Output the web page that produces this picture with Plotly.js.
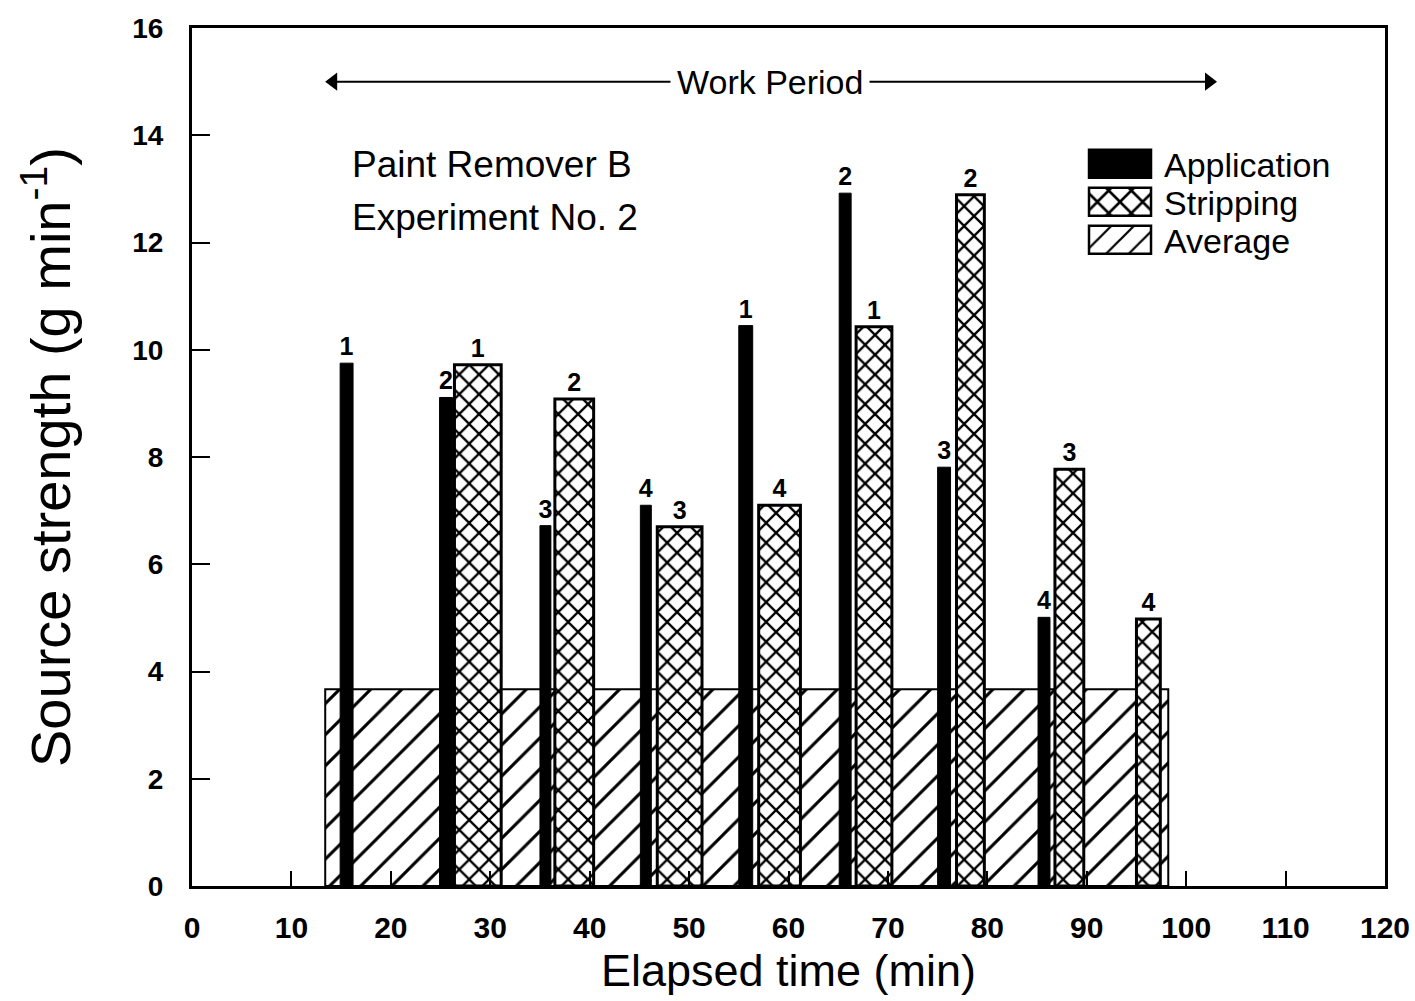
<!DOCTYPE html>
<html>
<head>
<meta charset="utf-8">
<script src="https://cdn.plot.ly/plotly-3.0.1.min.js"></script>
<style>
  html, body { margin: 0; padding: 0; background: #fff; }
  #chart { width: 1415px; height: 1001px; }
</style>
</head>
<body>
<div id="chart"></div>
<script>
// ---- data ----
const applicationStart = [14.9, 24.9, 35.0, 45.1, 55.0, 65.1, 75.0, 85.1];
const applicationEnd   = [16.2, 26.2, 36.1, 46.2, 56.4, 66.3, 76.3, 86.3];
const applicationValue = [9.75, 9.11, 6.72, 7.10, 10.45, 12.92, 7.81, 5.01];
const applicationLabel = ["1", "2", "3", "4", "1", "2", "3", "4"];

const strippingStart = [26.4, 36.5, 46.8, 57.0, 66.8, 76.9, 86.8, 95.0];
const strippingEnd   = [31.1, 40.4, 51.3, 61.2, 70.4, 79.7, 89.7, 97.4];
const strippingValue = [9.72, 9.08, 6.70, 7.10, 10.43, 12.89, 7.77, 4.98];
const strippingLabel = ["1", "2", "3", "4", "1", "2", "3", "4"];

const averageStart = [13.4];
const averageEnd   = [98.2];
const averageValue = [3.67];

const workPeriodX = [14.2, 102.3];
const workPeriodY = [15, 15];
const xTicks = [0, 10, 20, 30, 40, 50, 60, 70, 80, 90, 100, 110, 120];
const yTicks = [0, 2, 4, 6, 8, 10, 12, 14, 16];

// ---- helpers ----
const mid = (s, e) => s.map((v, i) => (v + e[i]) / 2);
const span = (s, e) => s.map((v, i) => e[i] - v);

const FONT = "Liberation Sans, Arial, Helvetica, sans-serif";

const traces = [
  {
    type: "bar", name: "Average", legendrank: 3,
    x: mid(averageStart, averageEnd), width: span(averageStart, averageEnd),
    y: averageValue,
    marker: { color: "#ffffff", line: { color: "#000", width: 2 },
      pattern: { shape: "/", fgcolor: "#000", bgcolor: "#fff", size: 22, solidity: 0.14 } },
    hoverinfo: "skip"
  },
  {
    type: "bar", name: "Application", legendrank: 1,
    x: mid(applicationStart, applicationEnd), width: span(applicationStart, applicationEnd),
    y: applicationValue,
    text: applicationLabel, textposition: "outside", constraintext: "none", cliponaxis: false,
    textfont: { family: FONT, size: 25, color: "#000", weight: "bold" },
    marker: { color: "#000", line: { color: "#000", width: 1 } },
    hoverinfo: "skip"
  },
  {
    type: "bar", name: "Stripping", legendrank: 2,
    x: mid(strippingStart, strippingEnd), width: span(strippingStart, strippingEnd),
    y: strippingValue,
    text: strippingLabel, textposition: "outside", constraintext: "none", cliponaxis: false,
    textfont: { family: FONT, size: 25, color: "#000", weight: "bold" },
    marker: { color: "#ffffff", line: { color: "#000", width: 3 },
      pattern: { shape: "x", fgcolor: "#000", bgcolor: "#fff", size: 14, solidity: 0.3 } },
    hoverinfo: "skip"
  },
  {
    type: "scatter", mode: "lines+markers", showlegend: false, cliponaxis: false,
    x: workPeriodX, y: workPeriodY,
    line: { color: "#000", width: 2 },
    marker: { symbol: ["triangle-left", "triangle-right"], size: 16, color: "#000" },
    hoverinfo: "skip"
  }
];

const layout = {
  width: 1415, height: 1001,
  margin: { l: 192, r: 30, t: 28, b: 115 },
  paper_bgcolor: "#fff", plot_bgcolor: "#fff",
  barmode: "overlay",
  bargap: 0,
  font: { family: FONT, color: "#000" },
  showlegend: true,
  legend: {
    x: 0.741, y: 0.875, xanchor: "left", yanchor: "top",
    bgcolor: "rgba(0,0,0,0)", borderwidth: 0,
    font: { family: FONT, size: 34, color: "#000" },
    itemwidth: 78, tracegroupgap: 0, traceorder: "normal"
  },
  xaxis: {
    range: [0, 120], tickvals: xTicks, ticktext: xTicks.map(String),
    ticks: "inside", ticklen: 15, tickwidth: 2, tickcolor: "#000",
    showline: true, linewidth: 3, linecolor: "#000", mirror: true,
    showgrid: false, zeroline: false, ticklabelstandoff: 13,
    tickfont: { family: FONT, size: 30, color: "#000", weight: "bold" },
    title: { text: "Elapsed time (min)", font: { family: FONT, size: 45, color: "#000" }, standoff: 12 }
  },
  yaxis: {
    range: [0, 16], tickvals: yTicks, ticktext: yTicks.map(String),
    ticks: "inside", ticklen: 18, tickwidth: 2, tickcolor: "#000",
    showline: true, linewidth: 3, linecolor: "#000", mirror: true,
    showgrid: false, zeroline: false, ticklabelstandoff: 20,
    tickfont: { family: FONT, size: 28, color: "#000", weight: "bold" },
    title: { text: "Source strength (g min<sup>-1</sup>)", font: { family: FONT, size: 56, color: "#000" }, standoff: 44 }
  },
  annotations: [
    { x: 58.1, y: 15, xref: "x", yref: "y", showarrow: false,
      bgcolor: "#fff", borderpad: 6,
      text: "Work Period", font: { family: FONT, size: 34, color: "#000" } },
    { x: 15.9, y: 13.45, xref: "x", yref: "y", xanchor: "left", showarrow: false,
      text: "Paint Remover B", font: { family: FONT, size: 37, color: "#000" } },
    { x: 15.9, y: 12.47, xref: "x", yref: "y", xanchor: "left", showarrow: false,
      text: "Experiment No. 2", font: { family: FONT, size: 37, color: "#000" } }
  ]
};

Plotly.newPlot("chart", traces, layout, { displayModeBar: false, staticPlot: true }).then(() => {
  // wide rectangular legend swatches (coarser hatching) and tighter row spacing as in the original
  document.querySelectorAll(".legend .legendpoints path").forEach(p => {
    p.setAttribute("d", "M15.5,7H-15.5V-7H15.5Z");
    const t = p.getAttribute("transform") || "";
    p.setAttribute("transform", t + " scale(2)");
    p.setAttribute("vector-effect", "non-scaling-stroke");
    p.style.strokeWidth = "2.5px";
  });
  const rows = document.querySelectorAll(".legend .traces");
  let y0 = null;
  rows.forEach((g, i) => {
    const m = /translate\(([-\d.]+)[ ,]+([-\d.]+)\)/.exec(g.getAttribute("transform") || "");
    if (!m) return;
    if (y0 === null) y0 = parseFloat(m[2]);
    g.setAttribute("transform", "translate(" + m[1] + "," + (y0 + i * 38) + ")");
  });
});
</script>
</body>
</html>
